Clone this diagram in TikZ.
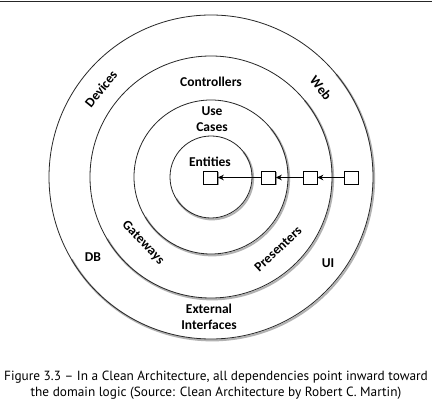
\documentclass[tikz,border=0pt]{standalone}
\usepackage{fontspec}
\setmainfont{Carlito}
\newfontfamily\capfont{PT Sans}
\usetikzlibrary{arrows.meta,shadows}
\begin{document}
\begin{tikzpicture}[x=1pt,y=-1pt,
  ring/.style={draw=black!85, line width=0.8pt},
  ringshadow/.style={draw=black!30, line width=2pt},
  lbl/.style={font=\bfseries\fontsize{13.5}{16.5}\selectfont, align=center, inner sep=0pt},
  dep/.style={draw, fill=white, minimum width=14pt, minimum height=13pt, inner sep=0pt, line width=0.6pt,
    drop shadow={shadow xshift=1.2pt, shadow yshift=-1.2pt, fill=black!40, opacity=1}},
  arr/.style={-{Stealth[length=6pt,width=5.5pt]}, line width=1.1pt}
]
\useasboundingbox (0,0) rectangle (432,411);
\fill[white] (0,0) rectangle (432,411);
\draw[line width=1.6pt, black!85] (0,1.5) -- (432,1.5);
\coordinate (c) at (211,177);
\foreach \r in {41,77,121,162} {
  \draw[ringshadow] ([shift={(1.1,1.4)}]c) ++(-40:\r) arc[start angle=-40, end angle=150, radius=\r];
  \draw[ring] (c) circle[radius=\r];
}
\node[lbl] (ent) at (210,162) {Entities};
\node[lbl] (uc) at (212,119) {Use\\Cases};
\node[lbl] (ctl) at (211,82) {Controllers};
\node[lbl] (ext) at (209,317) {External\\Interfaces};
\node[lbl, rotate=51] (dev) at (101,89) {Devices};
\node[lbl, rotate=-51] (web) at (321,88) {Web};
\node[lbl, rotate=-46] (gw) at (143,243) {Gateways};
\node[lbl, rotate=43] (pres) at (278,249) {Presenters};
\node[lbl] (db) at (93,257) {DB};
\node[lbl] (ui) at (328,263) {UI};
\node[dep] (b1) at (210.5,177.5) {};
\node[dep] (b2) at (268.5,177.5) {};
\node[dep] (b3) at (310,177.5) {};
\node[dep] (b4) at (351,177.5) {};
\draw[arr] (b4) -- (b3);
\draw[arr] (b3) -- (b2);
\draw[arr] (b2) -- (b1);
\node[font=\capfont\fontsize{13.3}{16}\selectfont, align=center, inner sep=0pt] (cap) at (216,385)
  {Figure 3.3 – In a Clean Architecture, all dependencies point inward toward\\the domain logic (Source: Clean Architecture by Robert C. Martin)};
\end{tikzpicture}
\end{document}
